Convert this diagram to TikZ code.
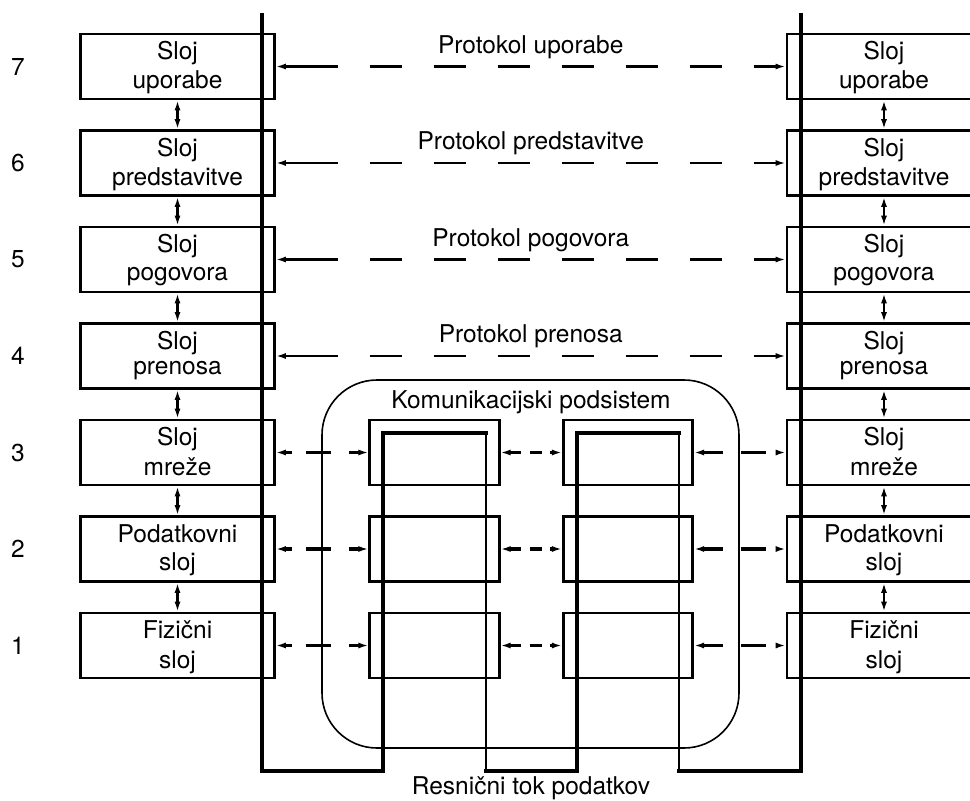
\documentclass[tikz,border=0pt]{standalone}
\usepackage{fontspec}
\setmainfont{TeX Gyre Heros}
\usetikzlibrary{arrows.meta}
\begin{document}
\begin{tikzpicture}[x=1pt,y=-1pt,
  >={Latex[length=10pt,width=6pt]},
  every node/.style={font=\fontsize{24.5}{29}\selectfont, inner sep=0pt},
  layerbox/.style={draw, line width=2.6pt, minimum width=194pt, minimum height=65pt},
  relaybox/.style={draw, line width=2.6pt, minimum width=129.5pt, minimum height=65pt},
  subsys/.style={draw, line width=1.6pt, rounded corners=55pt, minimum width=417pt, minimum height=368pt},
  varrow/.style={<->, line width=2.2pt},
  protoarrow/.style={<->, line width=#1,
    dash pattern=on 53pt off 31.7pt on 32.3pt off 31.7pt on 32.3pt off 31.7pt on 32.3pt off 31.7pt
      on 32.3pt off 31.7pt on 32.3pt off 31.7pt on 32.3pt off 31.7pt on 80pt},
  hopleft/.style={<->, line width=#1, dash pattern=on 7pt off 13.7pt on 25pt off 18.3pt on 40pt},
  hopmid/.style={<->, line width=#1, dash pattern=on 11pt off 9pt on 12pt off 8pt on 30pt},
  hopright/.style={<->, line width=#1, dash pattern=on 20pt off 18pt on 25pt off 14pt on 40pt},
  flow/.style={line width=3.2pt, line cap=rect},
  flowthin/.style={line width=2.2pt},
]
\useasboundingbox (0,0) rectangle (970,801);
\clip (0,0) rectangle (970,801);

% real data path through the two relay nodes
\draw[flow] (262,15) -- (262,771) -- (383,771) -- (383,433) -- (486,433);
\draw[flowthin] (486,433) -- (486,771);
\draw[flow] (486,771) -- (577,771) -- (577,433) -- (679,433);
\draw[flowthin] (679,433) -- (679,771);
\draw[flow] (679,771) -- (801,771) -- (801,15);

% communication subsystem
\node[subsys] (sub) at (530.5,564) {};
\node[anchor=base] (subtitle) at (531,408) {Komunikacijski podsistem};

% the seven layers on both end systems
\foreach \r/\a/\b/\d in {7/Sloj/uporabe/54, 6/Sloj/predstavitve/55, 5/Sloj/pogovora/53,
                         4/Sloj/prenosa/51, 3/Sloj/mreže/55, 2/Podatkovni/sloj/54, 1/Fizični/sloj/55} {
  \pgfmathsetmacro\t{34+(7-\r)*96.5}
  \node (N\r) at (18,\t+32.5) {\r};
  \node[layerbox] (L\r) at (177.5,\t+32.5) {};
  \node[anchor=base] (La\r) at (177.5,\t+25.5) {\a};
  \node[anchor=base] (Lb\r) at (177.5,\t+\d) {\b};
  \node[layerbox] (R\r) at (884,\t+32.5) {};
  \node[anchor=base] (Ra\r) at (884,\t+25.5) {\a};
  \node[anchor=base] (Rb\r) at (884,\t+\d) {\b};
}

% relay nodes (layers 1--3)
\foreach \r in {3,2,1} {
  \pgfmathsetmacro\t{34+(7-\r)*96.5}
  \node[relaybox] (A\r) at (434.5,\t+32.5) {};
  \node[relaybox] (B\r) at (628,\t+32.5) {};
}

% interfaces between adjacent layers
\foreach \r/\s in {7/6,6/5,5/4,4/3,3/2,2/1} {
  \draw[varrow] (L\r.south) -- (L\s.north);
  \draw[varrow] (R\r.south) -- (R\s.north);
}

% peer protocols of the upper layers
\foreach \r/\w/\txt in {7/3.6pt/Protokol uporabe, 6/2.6pt/Protokol predstavitve,
                        5/3.6pt/Protokol pogovora, 4/2.6pt/Protokol prenosa} {
  \draw[protoarrow=\w] (L\r.east) -- (R\r.west);
  \path (L\r.east) -- (R\r.west) node[midway, yshift=13.5pt, anchor=base] (P\r) {\txt};
}

% hop-by-hop protocols of the lower layers
\foreach \r/\w in {3/2.4pt, 2/3.6pt, 1/2.4pt} {
  \draw[hopleft=\w] (L\r.east) -- (A\r.west);
  \draw[hopmid=\w] (A\r.east) -- (B\r.west);
  \draw[hopright=\w] (B\r.east) -- (R\r.west);
}

\node[anchor=base] (flowlabel) at (531,794) {Resnični tok podatkov};
\end{tikzpicture}
\end{document}
